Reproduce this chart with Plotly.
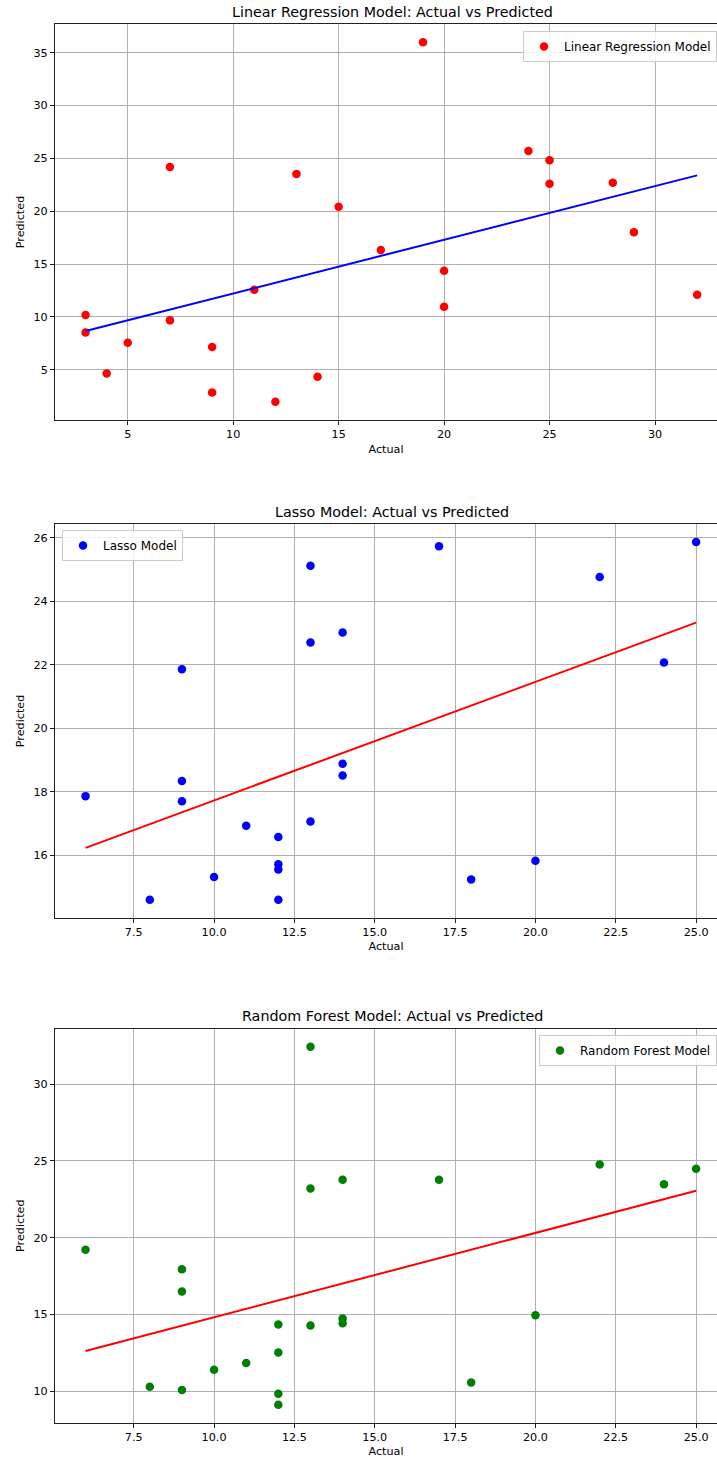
import plotly.graph_objects as go

# ---- Data ----
lr_actual = [3, 3, 4, 5, 7, 7, 9, 9, 11, 12, 13, 14, 15, 17, 19, 20, 20, 24, 25, 25, 28, 29, 32]
lr_pred = [10.17, 8.53, 4.65, 7.56, 24.18, 9.67, 7.15, 2.85, 12.57, 1.97, 23.52, 4.34, 20.43,
           16.32, 35.98, 14.37, 10.96, 25.69, 24.81, 22.60, 22.70, 18.00, 12.10]
lr_line_x = [3, 32]
lr_line_y = [8.66, 23.39]

lasso_actual = [6, 8, 9, 9, 9, 10, 11, 12, 12, 12, 12, 13, 13, 13, 14, 14, 14, 17, 18, 20, 22, 24, 25]
lasso_pred = [17.86, 14.59, 21.86, 18.34, 17.70, 15.31, 16.93, 16.57, 15.71, 15.55, 14.59, 25.12,
              22.70, 17.06, 23.02, 18.88, 18.51, 25.74, 15.23, 15.82, 24.77, 22.07, 25.87]
lasso_line_x = [6, 25]
lasso_line_y = [16.23, 23.33]

rf_actual = [6, 8, 9, 9, 9, 10, 11, 12, 12, 12, 12, 13, 13, 13, 14, 14, 14, 17, 18, 20, 22, 24, 25]
rf_pred = [19.22, 10.28, 17.94, 16.49, 10.07, 11.39, 11.84, 14.34, 12.52, 9.83, 9.11, 32.45,
           23.21, 14.27, 23.77, 14.73, 14.43, 23.77, 10.56, 14.95, 24.77, 23.49, 24.49]
rf_line_x = [6, 25]
rf_line_y = [12.62, 23.06]

titles = ["Linear Regression Model: Actual vs Predicted",
          "Lasso Model: Actual vs Predicted",
          "Random Forest Model: Actual vs Predicted"]
names = ["Linear Regression Model", "Lasso Model", "Random Forest Model"]

# ---- Layout constants ----
W, H = 717, 1464
FONT = "DejaVu Sans"
domains = [[0.7133, 0.9834], [0.3732, 0.6419], [0.0282, 0.2973]]
title_y = [0.9918, 0.6503, 0.3062]
xranges = [[1.55, 32.94], [5.05, 25.65], [5.05, 25.65]]
yranges = [[0.27, 37.68], [14.03, 26.43], [7.94, 33.62]]
xticks = [[5, 10, 15, 20, 25, 30], [7.5, 10, 12.5, 15, 17.5, 20, 22.5, 25],
          [7.5, 10, 12.5, 15, 17.5, 20, 22.5, 25]]
xfmt = ["d", ".1f", ".1f"]
yticks = [[5, 10, 15, 20, 25, 30, 35], [16, 18, 20, 22, 24, 26], [10, 15, 20, 25, 30]]

fig = go.Figure()

sets = [
    (lr_actual, lr_pred, lr_line_x, lr_line_y, "#ff0000", "#0000ff"),
    (lasso_actual, lasso_pred, lasso_line_x, lasso_line_y, "#0000ff", "#ff0000"),
    (rf_actual, rf_pred, rf_line_x, rf_line_y, "#008000", "#ff0000"),
]

legend_keys = ["legend", "legend2", "legend3"]
for i, (ax, pr, lx, ly, mc, lc) in enumerate(sets):
    suffix = "" if i == 0 else str(i + 1)
    fig.add_trace(go.Scatter(
        x=ax, y=pr, mode="markers", name=names[i],
        marker=dict(color=mc, size=8.5),
        xaxis="x" + suffix, yaxis="y" + suffix, legend=legend_keys[i], showlegend=True))
    fig.add_trace(go.Scatter(
        x=lx, y=ly, mode="lines", line=dict(color=lc, width=2),
        xaxis="x" + suffix, yaxis="y" + suffix, showlegend=False, hoverinfo="skip"))

layout = dict(
    width=W, height=H,
    margin=dict(l=55, r=0, t=0, b=0, autoexpand=False),
    paper_bgcolor="white", plot_bgcolor="white",
    font=dict(family=FONT, size=11.2, color="black"),
    showlegend=True,
)

axis_common = dict(
    showgrid=True, gridcolor="#b0b0b0", gridwidth=0.9, zeroline=False,
    showline=True, linecolor="#222222", linewidth=1,
    ticks="outside", ticklen=4, tickwidth=1, tickcolor="#222222",
    tickfont=dict(family=FONT, size=11.2, color="black"),
)

for i in range(3):
    suffix = "" if i == 0 else str(i + 1)
    layout["xaxis" + suffix] = dict(
        axis_common, domain=[0, 1], range=xranges[i], anchor="y" + suffix,
        tickvals=xticks[i], tickformat=xfmt[i], mirror=True,
        title=dict(text="Actual", font=dict(family=FONT, size=11.2), standoff=4),
    )
    layout["yaxis" + suffix] = dict(
        axis_common, domain=domains[i], range=yranges[i], anchor="x" + suffix,
        tickvals=yticks[i], mirror=False,
        title=dict(text="Predicted", font=dict(family=FONT, size=11.2), standoff=6),
    )

legend_common = dict(
    bgcolor="rgba(255,255,255,0.85)", bordercolor="#cccccc", borderwidth=1,
    font=dict(family=FONT, size=12, color="black"),
    xanchor="left", yanchor="top", itemsizing="trace",
    tracegroupgap=0,
)
layout["legend"] = dict(legend_common, x=(523 - 55) / 662, y=1 - 31 / H)
layout["legend2"] = dict(legend_common, x=(62 - 55) / 662, y=1 - 530 / H)
layout["legend3"] = dict(legend_common, x=(539 - 55) / 662, y=1 - 1035 / H)

layout["annotations"] = [
    dict(text=titles[i], x=(392 - 55) / 662, y=title_y[i], xref="paper", yref="paper",
         xanchor="center", yanchor="middle", showarrow=False,
         font=dict(family=FONT, size=14.3, color="black"))
    for i in range(3)
]

fig.update_layout(layout)
fig.write_html("out.html", config={"displayModeBar": False},
               post_script="document.body.style.margin='0';document.body.style.overflow='hidden';")
